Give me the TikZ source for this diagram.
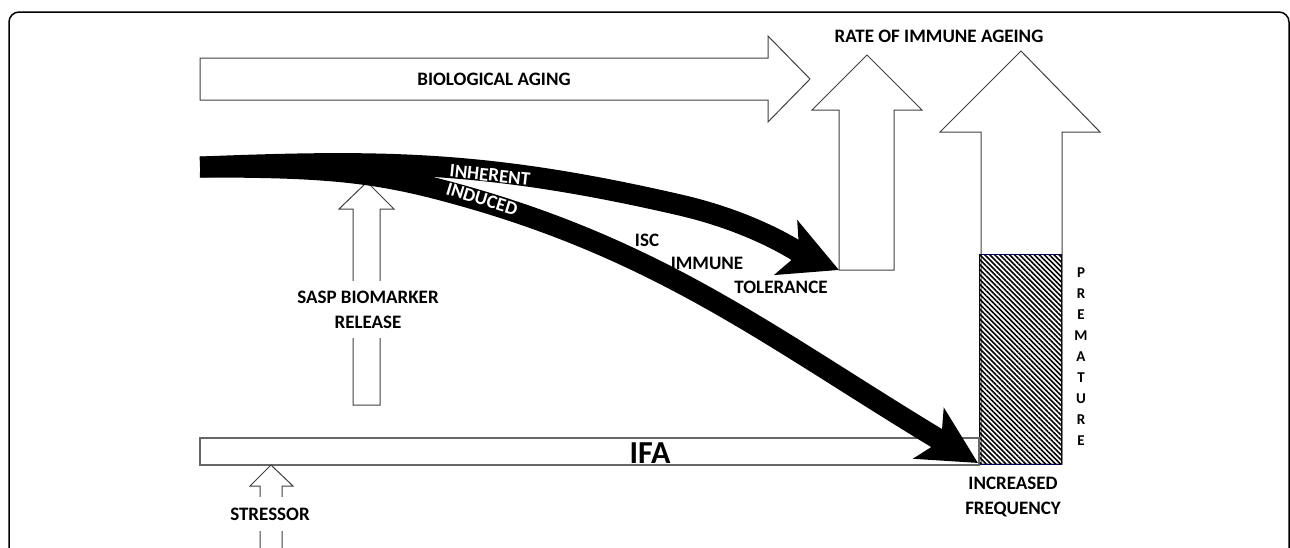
\documentclass[tikz,border=0pt]{standalone}
\usepackage{fontspec}
\setmainfont{Carlito}
\usepackage{tikz}
\usetikzlibrary{arrows.meta,patterns.meta}

\begin{document}
\begin{tikzpicture}[x=1pt,y=-1pt,
  outl/.style={draw=black!75,line width=1pt,fill=white},
  lbl/.style={font=\fontsize{19}{25}\selectfont\bfseries,align=center,inner sep=0pt},
  band/.style={line width=21pt,-{Stealth[length=57pt,width=58pt,inset=14pt]}}]
  \useasboundingbox (0,0) rectangle (1290,547);
  \draw[line width=1.5pt,rounded corners=10pt] (9,12) rectangle (1289,575);
  \draw[outl] (200,58) -- (768,58) -- (768,36) -- (810,79) -- (768,122) -- (768,100) -- (200,100) -- cycle;
  \node[lbl] (bio) at (494,79) {BIOLOGICAL AGING};
  \draw[outl] (839,270) -- (839,110) -- (812,110) -- (867,55) -- (922,110) -- (894,110) -- (894,270) -- cycle;
  \draw[outl] (981,464) -- (981,132) -- (940,132) -- (1021,51) -- (1100,132) -- (1062,132) -- (1062,464) -- cycle;
  \node[lbl] (rate) at (939,36) {RATE OF IMMUNE AGEING};
  \draw[draw=blue!35!black,line width=0.8pt,pattern={Lines[angle=-45,distance=3.5pt,line width=1.6pt]}]
    (979,254) rectangle (1061,464);
  \foreach \l [count=\i] in {P,R,E,M,A,T,U,R,E}
    \node[lbl,font=\fontsize{15}{17}\selectfont\bfseries] (p\i) at (1081,{273+20.9*(\i-1)}) {\l};
  \node[lbl] (freq) at (1013,497) {\fontsize{19}{23.5}\selectfont INCREASED\\FREQUENCY};
  \draw[draw=black!60,line width=1.5pt,fill=white] (200,438) rectangle (979,465);
  \node[lbl,font=\fontsize{32}{36}\selectfont\bfseries] (ifa) at (650,453) {IFA};
  \draw[outl] (260,560) -- (260,486) -- (250,486) -- (271,465) -- (293,486) -- (282,486) -- (282,560);
  \node[lbl,fill=white,inner xsep=2pt,inner ysep=11pt] (str) at (270,514) {STRESSOR};
  \draw[outl] (353,405) -- (353,209) -- (339,209) -- (367,182) -- (394,209) -- (380,209) -- (380,405) -- cycle;
  \node[lbl,fill=white,inner xsep=2pt,inner ysep=10pt] (sasp) at (368,309.5) {SASP BIOMARKER\\RELEASE};
  \coordinate (s) at (200,167);
  \coordinate (up) at (680,205);
  \coordinate (sp) at (449,192);
  \coordinate (t1) at (839,270);
  \coordinate (t2) at (978,463);
  \draw[band] (s) .. controls (380,160) and (485,160) .. (up)
    .. controls (758,223) and (802,254.4) .. (t1);
  \draw[band] (s) .. controls (320,167) and (372,171) .. (sp)
    .. controls (661,249) and (772,339) .. (t2);
  \node[lbl,text=white,rotate=-6] (inh) at (490,175) {INHERENT};
  \node[lbl,text=white,rotate=-17] (ind) at (482,199) {INDUCED};
  \node[lbl] (isc) at (647,240) {ISC};
  \node[lbl] (imm) at (707,263) {IMMUNE};
  \node[lbl] (tol) at (781,287) {TOLERANCE};
%  \node[lbl] at (650,520) {};
\end{tikzpicture}
\end{document}
